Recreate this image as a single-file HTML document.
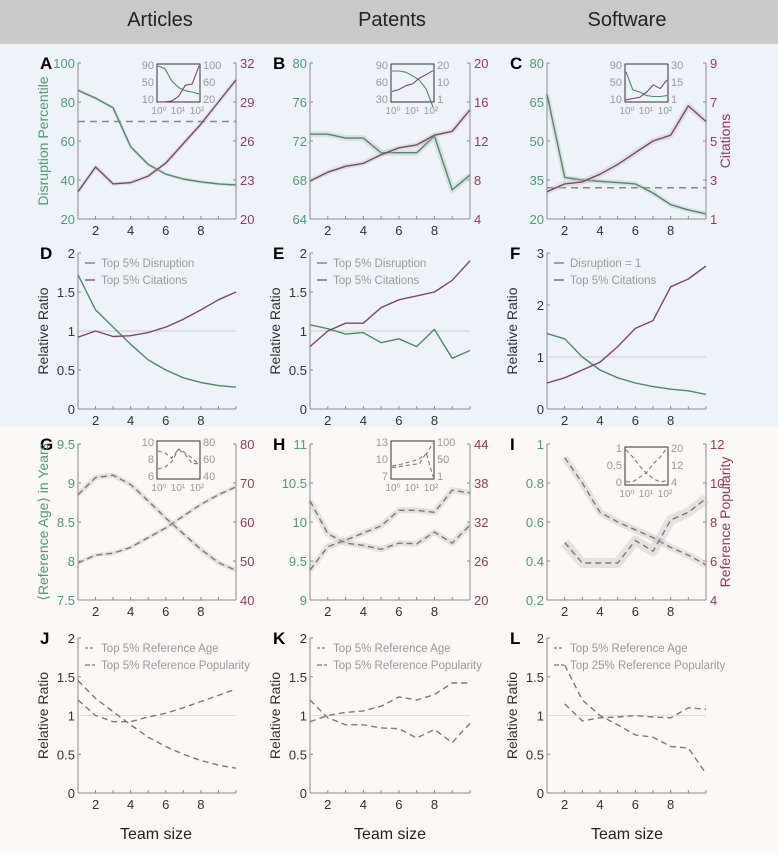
<!DOCTYPE html>
<html><head><meta charset="utf-8"><style>
html,body{margin:0;padding:0;background:#fff}
svg{display:block;font-family:"Liberation Sans",sans-serif}
</style></head><body>
<svg id="fig" width="778" height="853" viewBox="0 0 778 853" xmlns="http://www.w3.org/2000/svg">
<rect x="0" y="0" width="778" height="44" fill="#c9c9c9"/>
<rect x="0" y="44" width="778" height="383" fill="#eef3f9"/>
<rect x="0" y="427" width="778" height="426" fill="#fcf8f5"/>
<text x="160" y="26" font-size="20" text-anchor="middle" fill="#222">Articles</text>
<text x="392" y="26" font-size="20" text-anchor="middle" fill="#222">Patents</text>
<text x="627" y="26" font-size="20" text-anchor="middle" fill="#222">Software</text>
<text x="156" y="839" font-size="16" text-anchor="middle" fill="#222">Team size</text>
<text x="390" y="839" font-size="16" text-anchor="middle" fill="#222">Team size</text>
<text x="627" y="839" font-size="16" text-anchor="middle" fill="#222">Team size</text>
</svg>
<script>
// ---- data ----
const teamSizes = [1,2,3,4,5,6,7,8,9,10];
const xTickLabels = [2,4,6,8];
const aDisruption = [86,82,77,57,48,43,40.5,39,38,37.5];
const aCitations = [22.1,24,22.7,22.8,23.3,24.3,25.8,27.3,29,30.7];
const bDisruption = [72.7,72.7,72.3,72.3,70.8,70.8,70.8,72.5,67,68.5];
const bCitations = [7.9,8.8,9.4,9.7,10.6,11.3,11.6,12.6,13,15.2];
const cDisruption = [68,36,35,34.5,34,33.5,30,25.5,23.5,22];
const cCitations = [2.4,2.8,2.9,3.3,3.8,4.4,5,5.3,6.8,6.0];
const dTopDisruption = [1.72,1.27,1.05,0.83,0.63,0.5,0.4,0.34,0.3,0.28];
const dTopCitations = [0.92,1.0,0.93,0.94,0.98,1.05,1.15,1.27,1.4,1.5];
const eTopDisruption = [1.08,1.03,0.96,0.98,0.85,0.9,0.8,1.02,0.65,0.75];
const eTopCitations = [0.8,1.0,1.1,1.1,1.3,1.4,1.45,1.5,1.65,1.9];
const fDisruptionOne = [1.45,1.35,1.0,0.75,0.6,0.5,0.43,0.38,0.35,0.28];
const fTopCitations = [0.5,0.6,0.75,0.9,1.2,1.55,1.7,2.35,2.5,2.75];
const gRefAge = [8.85,9.07,9.1,8.98,8.77,8.55,8.35,8.15,7.98,7.88];
const gRefPop = [49.5,51.5,52,53.5,56,58.5,61.5,64.5,67,69];
const hRefAge = [10.27,9.85,9.73,9.7,9.65,9.73,9.72,9.87,9.73,9.96];
const hRefPop = [24.6,28.2,29.2,30.3,31.4,33.8,33.8,33.5,36.9,36.5];
const iRefAge = [null,0.93,0.8,0.65,0.6,0.56,0.52,0.47,0.43,0.38];
const iRefPop = [null,6.95,5.9,5.9,5.9,7.05,6.5,8.1,8.5,9.2];
const jTopAge = [1.45,1.22,1.05,0.88,0.72,0.6,0.5,0.42,0.36,0.32];
const jTopPop = [1.2,1.0,0.92,0.92,0.98,1.03,1.1,1.18,1.26,1.34];
const kTopAge = [1.2,0.97,0.88,0.88,0.84,0.83,0.71,0.82,0.65,0.9];
const kTopPop = [0.92,1.0,1.04,1.06,1.12,1.24,1.2,1.27,1.42,1.42];
const lTopAge = [null,1.65,1.2,1.0,0.88,0.75,0.72,0.6,0.58,0.25];
const lTopPop = [null,1.15,0.93,0.97,0.98,1.0,0.98,0.97,1.1,1.08];
const insetX = [0,1,2,3,4,5,6];
const insetA1 = [88,82,55,40,33,30,26];
const insetA2 = [18,18,20,30,55,58,98];
const insetB1 = [80,80,78,72,65,50,20];
const insetB2 = [6,7,9,10,13,15,17];
const insetC1 = [75,35,30,22,20,20,22];
const insetC2 = [2,3,4,8,14,11,18];
const insetG1 = [9,8.8,8.2,9.2,8.6,7.6,7.6];
const insetG2 = [50,52,58,72,68,62,55];
const insetH1 = [9,9.2,9.5,9.8,10.2,11,12.8];
const insetH2 = [30,32,35,38,40,70,5];
const insetI1 = [0.95,0.75,0.5,0.3,0.15,0.05,0.1];
const insetI2 = [5,5,7,9,13,16,20];

const NS='http://www.w3.org/2000/svg';
const svg=document.getElementById('fig');
function el(tag,attrs,parent){const e=document.createElementNS(NS,tag);for(const k in attrs)e.setAttribute(k,attrs[k]);(parent||svg).appendChild(e);return e;}
function txt(s,attrs,parent){const t=el('text',attrs,parent);t.textContent=s;return t;}

const GREEN='#4b8a6c', PURPLE='#7e4862', GT='#4f9a76', PT='#8e3d5e', AX='#8a8a8a', DG='#7a7a7a';

function panel(o){
  const g=el('g',{});
  
  
  const xs=v=>o.x0+(v-1)*(o.x1-o.x0)/9;
  const yL=v=>o.y1-(v-o.L.min)*(o.y1-o.y0)/(o.L.max-o.L.min);
  const yR=o.R?(v=>o.y1-(v-o.R.min)*(o.y1-o.y0)/(o.R.max-o.R.min)):null;
  const la=el('line',{x1:o.x0,y1:o.y0,x2:o.x0,y2:o.y1,stroke:AX,'stroke-width':1},g);
  
  
  const ba=el('line',{x1:o.x0,y1:o.y1,x2:o.x1,y2:o.y1,stroke:AX,'stroke-width':1},g);
  
  
  if(o.R){const ra=el('line',{x1:o.x1,y1:o.y0,x2:o.x1,y2:o.y1,stroke:AX,'stroke-width':1},g);
    
    }
  teamSizes.forEach(v=>{el('line',{x1:xs(v),y1:o.y1,x2:xs(v),y2:o.y1-3,stroke:AX},g);});
  xTickLabels.forEach(v=>{const t=txt(String(v),{x:xs(v),y:o.y1+16,'font-size':13,'text-anchor':'middle',fill:'#333'},g);
    
    });
  o.L.ticks.forEach(v=>{el('line',{x1:o.x0,y1:yL(v),x2:o.x0+3,y2:yL(v),stroke:AX},g);
    const t=txt(String(v),{x:o.x0-3,y:yL(v)+5,'font-size':13,'text-anchor':'end',fill:o.L.color},g);
    
    });
  if(o.R)o.R.ticks.forEach(v=>{el('line',{x1:o.x1,y1:yR(v),x2:o.x1-3,y2:yR(v),stroke:AX},g);
    const t=txt(String(v),{x:o.x1+4,y:yR(v)+5,'font-size':13,'text-anchor':'start',fill:o.R.color},g);
    
    });
  if(o.hline){const f=o.hline.axis==='R'?yR:yL;
    const h=el('line',{x1:o.x0,y1:f(o.hline.v),x2:o.x1,y2:f(o.hline.v),stroke:o.hline.color,'stroke-width':o.hline.w,'stroke-dasharray':o.hline.dash||'none'},g);
    
    }
  o.series.forEach(s=>{
    const f=s.axis==='R'?yR:yL;
    const pts=[];s.vals.forEach((v,i)=>{if(v!==null)pts.push(xs(teamSizes[i]).toFixed(1)+','+f(v).toFixed(1));});
    if(s.band){const b=el('polyline',{points:pts.join(' '),fill:'none',stroke:'#bbb','stroke-opacity':0.35,'stroke-width':s.band,'stroke-linejoin':'round'},g);
      
      }
    const p=el('polyline',{points:pts.join(' '),fill:'none',stroke:s.color,'stroke-width':1.4,'stroke-dasharray':s.dash||'none','stroke-linejoin':'round'},g);
    
    
  });
  const lt=txt(o.letter,{x:o.lx-2,y:o.y0+6,'font-size':17,'font-weight':'bold',fill:'#000'},g);
  
  
  if(o.ylab){const cx=o.x0-30,cy=(o.y0+o.y1)/2;
    const t=txt(o.ylab,{x:cx,y:cy,'font-size':14,'text-anchor':'middle',fill:o.ylabColor,transform:'rotate(-90 '+cx+' '+cy+')'},g);
    
    }
  if(o.rlab){const cx=o.x1+24,cy=(o.y0+o.y1)/2;
    const t=txt(o.rlab,{x:cx,y:cy,'font-size':14,'text-anchor':'middle',fill:PT,transform:'rotate(-90 '+cx+' '+cy+')'},g);
    
    }
  if(o.legend){o.legend.forEach((l,i)=>{const y=o.y0+10+i*17;
    el('line',{x1:o.x0+7,y1:y,x2:o.x0+17,y2:y,stroke:l.color,'stroke-width':1.3,'stroke-dasharray':l.dash||'none'},g);
    const t=txt(l.text,{x:o.x0+23,y:y+4,'font-size':11.5,fill:'#9a9a9a'},g);
    
    });}
  if(o.inset)inset(o.inset,g);
}
function inset(n,parent){
  const g=el('g',{},parent);
  
  
  el('rect',{x:n.x,y:n.y,width:43,height:38,fill:'none',stroke:'#333','stroke-width':1},g);
  const ix=v=>n.x+1+v*41/6;
  const iyL=v=>n.y+37-(v-n.lmin)*36/(n.lmax-n.lmin);
  const iyR=v=>n.y+37-(v-n.rmin)*36/(n.rmax-n.rmin);
  [[n.s1,iyL],[n.s2,iyR]].forEach(([arr,f],k)=>{
    const pts=arr.map((v,i)=>ix(insetX[i]).toFixed(1)+','+f(v).toFixed(1)).join(' ');
    const p=el('polyline',{points:pts,fill:'none',stroke:n.colors[k],'stroke-width':1.1,'stroke-dasharray':n.dash||'none'},g);
    
    
  });
  n.lt.forEach((s,i)=>{txt(String(s),{x:n.x-3,y:n.y+5+i*17,'font-size':11,'text-anchor':'end',fill:'#999'},g);});
  n.rt.forEach((s,i)=>{txt(String(s),{x:n.x+46,y:n.y+5+i*17,'font-size':11,fill:'#999'},g);});
  ['10\u2070','10\u00b9','10\u00b2'].forEach((s,i)=>{txt(s,{x:n.x+2+i*19,y:n.y+50,'font-size':10,'text-anchor':'middle',fill:'#999'},g);});
}
const C1={x0:78,x1:236,lx:42}, C2={x0:310,x1:470,lx:275}, C3={x0:547,x1:706,lx:512};
const R1={y0:63,y1:219}, R2={y0:253,y1:409}, R3={y0:444,y1:600}, R4={y0:638,y1:793};
function P(c,r,o){return Object.assign({},c,r,o);}
panel(P(C1,R1,{name:'panel-a',letter:'A',L:{min:20,max:100,ticks:[20,40,60,80,100],color:GT},R:{min:20,max:32,ticks:[20,23,26,29,32],color:PT},
  hline:{v:70,axis:'L',color:'#888',w:1.5,dash:'7,5'},ylab:'Disruption Percentile',ylabColor:GT,
  series:[{name:'a-disruption-line',vals:aDisruption,color:GREEN,band:3},{name:'a-citations-line',axis:'R',vals:aCitations,color:PURPLE,band:4}],
  inset:{x:157,y:64,lmin:10,lmax:90,rmin:20,rmax:100,s1:insetA1,s2:insetA2,colors:[GREEN,PURPLE],lt:[90,50,10],rt:[100,60,20]}}));
panel(P(C2,R1,{name:'panel-b',letter:'B',L:{min:64,max:80,ticks:[64,68,72,76,80],color:GT},R:{min:4,max:20,ticks:[4,8,12,16,20],color:PT},
  series:[{name:'b-disruption-line',vals:bDisruption,color:GREEN,band:6},{name:'b-citations-line',axis:'R',vals:bCitations,color:PURPLE,band:5}],
  inset:{x:391,y:64,lmin:30,lmax:90,rmin:1,rmax:20,s1:insetB1,s2:insetB2,colors:[GREEN,PURPLE],lt:[90,60,30],rt:[20,10,1]}}));
panel(P(C3,R1,{name:'panel-c',letter:'C',L:{min:20,max:80,ticks:[20,35,50,65,80],color:GT},R:{min:1,max:9,ticks:[1,3,5,7,9],color:PT},
  hline:{v:32,axis:'L',color:'#888',w:1.5,dash:'7,5'},rlab:'Citations',
  series:[{name:'c-disruption-line',vals:cDisruption,color:GREEN,band:5},{name:'c-citations-line',axis:'R',vals:cCitations,color:PURPLE,band:6}],
  inset:{x:625,y:64,lmin:10,lmax:90,rmin:1,rmax:30,s1:insetC1,s2:insetC2,colors:[GREEN,PURPLE],lt:[90,50,10],rt:[30,15,1]}}));
panel(P(C1,R2,{name:'panel-d',letter:'D',L:{min:0,max:2,ticks:[0,0.5,1,1.5,2],color:'#333'},
  hline:{v:1,axis:'L',color:'#ccc',w:1},ylab:'Relative Ratio',ylabColor:'#333',
  legend:[{text:'Top 5% Disruption',color:GREEN},{text:'Top 5% Citations',color:PURPLE}],
  series:[{name:'d-top-disruption-line',vals:dTopDisruption,color:GREEN},{name:'d-top-citations-line',vals:dTopCitations,color:PURPLE}]}));
panel(P(C2,R2,{name:'panel-e',letter:'E',L:{min:0,max:2,ticks:[0,0.5,1,1.5,2],color:'#333'},
  hline:{v:1,axis:'L',color:'#ccc',w:1},ylab:'Relative Ratio',ylabColor:'#333',
  legend:[{text:'Top 5% Disruption',color:GREEN},{text:'Top 5% Citations',color:PURPLE}],
  series:[{name:'e-top-disruption-line',vals:eTopDisruption,color:GREEN},{name:'e-top-citations-line',vals:eTopCitations,color:PURPLE}]}));
panel(P(C3,R2,{name:'panel-f',letter:'F',L:{min:0,max:3,ticks:[0,1,2,3],color:'#333'},
  hline:{v:1,axis:'L',color:'#ccc',w:1},ylab:'Relative Ratio',ylabColor:'#333',
  legend:[{text:'Disruption = 1',color:GREEN},{text:'Top 5% Citations',color:PURPLE}],
  series:[{name:'f-disruption-one-line',vals:fDisruptionOne,color:GREEN},{name:'f-top-citations-line',vals:fTopCitations,color:PURPLE}]}));
panel(P(C1,R3,{name:'panel-g',letter:'G',L:{min:7.5,max:9.5,ticks:[7.5,8,8.5,9,9.5],color:GT},R:{min:40,max:80,ticks:[40,50,60,70,80],color:PT},
  ylab:'\u27e8Reference Age\u27e9 in Years',ylabColor:GT,
  series:[{name:'g-reference-age-line',vals:gRefAge,color:DG,dash:'6,4',band:5},{name:'g-reference-popularity-line',axis:'R',vals:gRefPop,color:DG,dash:'6,4',band:4}],
  inset:{x:157,y:441,lmin:6,lmax:10,rmin:40,rmax:80,s1:insetG1,s2:insetG2,colors:[DG,DG],dash:'4,3',lt:[10,8,6],rt:[80,60,40]}}));
panel(P(C2,R3,{name:'panel-h',letter:'H',L:{min:9,max:11,ticks:[9,9.5,10,10.5,11],color:GT},R:{min:20,max:44,ticks:[20,26,32,38,44],color:PT},
  series:[{name:'h-reference-age-line',vals:hRefAge,color:DG,dash:'6,4',band:6},{name:'h-reference-popularity-line',axis:'R',vals:hRefPop,color:DG,dash:'6,4',band:6}],
  inset:{x:391,y:441,lmin:7,lmax:13,rmin:1,rmax:100,s1:insetH1,s2:insetH2,colors:[DG,DG],dash:'4,3',lt:[13,10,7],rt:[100,50,1]}}));
panel(P(C3,R3,{name:'panel-i',letter:'I',L:{min:0.2,max:1,ticks:[0.2,0.4,0.6,0.8,1],color:GT},R:{min:4,max:12,ticks:[4,6,8,10,12],color:PT},
  rlab:'Reference Popularity',
  series:[{name:'i-reference-age-line',vals:iRefAge,color:DG,dash:'6,4',band:7},{name:'i-reference-popularity-line',axis:'R',vals:iRefPop,color:DG,dash:'6,4',band:10}],
  inset:{x:625,y:447,lmin:0,lmax:1,rmin:4,rmax:20,s1:insetI1,s2:insetI2,colors:[DG,DG],dash:'4,3',lt:[1,0.5,0],rt:[20,12,4]}}));
panel(P(C1,R4,{name:'panel-j',letter:'J',L:{min:0,max:2,ticks:[0,0.5,1,1.5,2],color:'#333'},
  hline:{v:1,axis:'L',color:'#e2dcd8',w:1},ylab:'Relative Ratio',ylabColor:'#333',
  legend:[{text:'Top 5% Reference Age',color:DG,dash:'3,2'},{text:'Top 5% Reference Popularity',color:DG,dash:'5,2'}],
  series:[{name:'j-top-age-line',vals:jTopAge,color:DG,dash:'6,4'},{name:'j-top-popularity-line',vals:jTopPop,color:DG,dash:'6,4'}]}));
panel(P(C2,R4,{name:'panel-k',letter:'K',L:{min:0,max:2,ticks:[0,0.5,1,1.5,2],color:'#333'},
  hline:{v:1,axis:'L',color:'#e2dcd8',w:1},ylab:'Relative Ratio',ylabColor:'#333',
  legend:[{text:'Top 5% Reference Age',color:DG,dash:'3,2'},{text:'Top 5% Reference Popularity',color:DG,dash:'5,2'}],
  series:[{name:'k-top-age-line',vals:kTopAge,color:DG,dash:'6,4'},{name:'k-top-popularity-line',vals:kTopPop,color:DG,dash:'6,4'}]}));
panel(P(C3,R4,{name:'panel-l',letter:'L',L:{min:0,max:2,ticks:[0,0.5,1,1.5,2],color:'#333'},
  hline:{v:1,axis:'L',color:'#e2dcd8',w:1},ylab:'Relative Ratio',ylabColor:'#333',
  legend:[{text:'Top 5% Reference Age',color:DG,dash:'3,2'},{text:'Top 25% Reference Popularity',color:DG,dash:'5,2'}],
  series:[{name:'l-top-age-line',vals:lTopAge,color:DG,dash:'6,4'},{name:'l-top-popularity-line',vals:lTopPop,color:DG,dash:'6,4'}]}));
</script>
</body></html>
